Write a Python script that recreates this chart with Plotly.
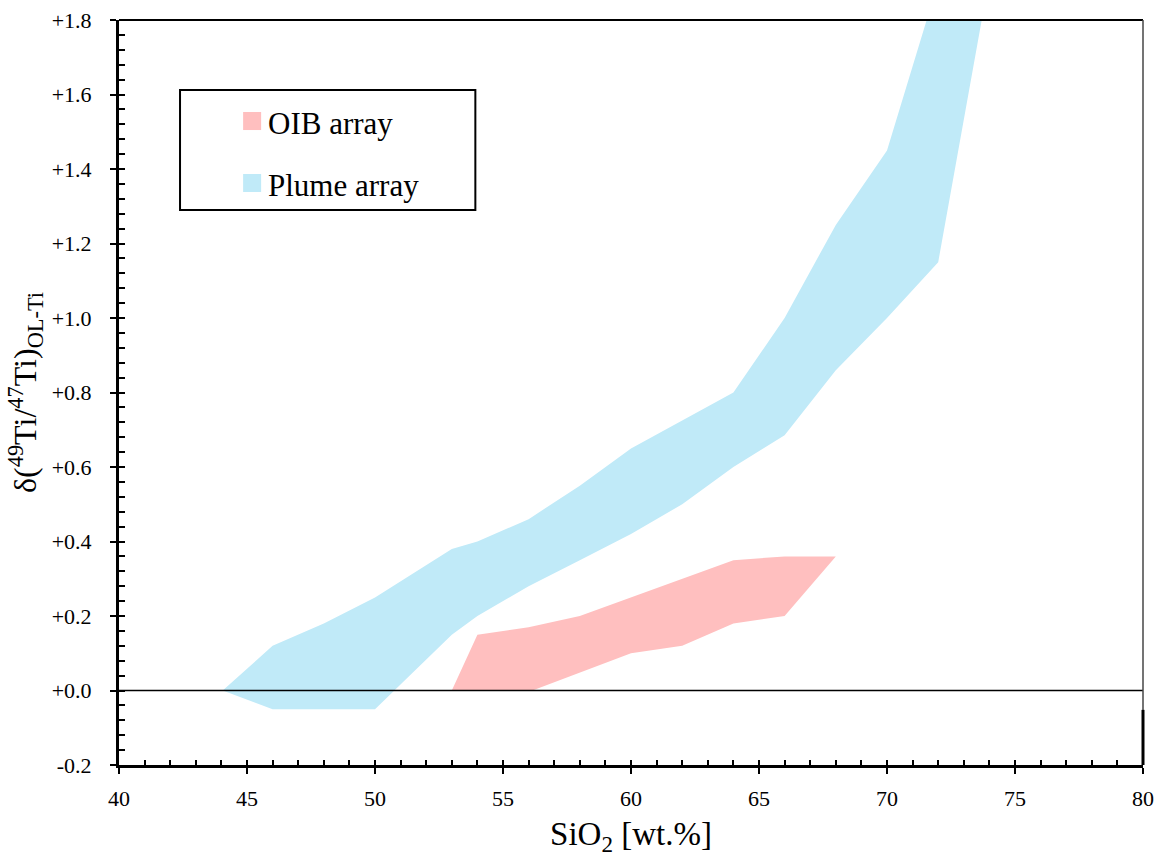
import plotly.graph_objects as go

# Plume array envelope: upper edge (increasing SiO2), then lower edge back down
plume_upper_sio2 = [44.05, 46, 48, 50, 53, 54, 56, 58, 60, 62, 64, 66, 68, 70, 71.55]
plume_upper_dti = [0.00, 0.12, 0.18, 0.25, 0.38, 0.40, 0.46, 0.55, 0.65, 0.725, 0.80, 1.00, 1.25, 1.45, 1.80]
plume_lower_sio2 = [73.7, 72, 70, 68, 66, 64, 62, 60, 58, 56, 54, 53, 50, 46]
plume_lower_dti = [1.80, 1.15, 1.00, 0.86, 0.685, 0.60, 0.50, 0.42, 0.35, 0.28, 0.20, 0.15, -0.05, -0.05]

# OIB array envelope
oib_upper_sio2 = [53.0, 54, 56, 58, 64, 66, 68]
oib_upper_dti = [0.00, 0.15, 0.17, 0.20, 0.35, 0.36, 0.36]
oib_lower_sio2 = [66, 64, 62, 60, 56.15]
oib_lower_dti = [0.20, 0.18, 0.12, 0.10, 0.00]

x_tick_vals = [40, 45, 50, 55, 60, 65, 70, 75, 80]
x_tick_text = ["40", "45", "50", "55", "60", "65", "70", "75", "80"]
y_tick_vals = [-0.2, 0.0, 0.2, 0.4, 0.6, 0.8, 1.0, 1.2, 1.4, 1.6, 1.8]
y_tick_text = ["-0.2", "+0.0", "+0.2", "+0.4", "+0.6", "+0.8", "+1.0", "+1.2", "+1.4", "+1.6", "+1.8"]

series_names = ["OIB array", "Plume array"]
series_colors = ["#FFBFBF", "#C0EAF8"]

FONT = "Liberation Serif"

fig = go.Figure()

fig.add_trace(go.Scatter(
    x=plume_upper_sio2 + plume_lower_sio2,
    y=plume_upper_dti + plume_lower_dti,
    fill="toself", fillcolor=series_colors[1], mode="none",
    name=series_names[1], showlegend=False, hoverinfo="skip",
))
fig.add_trace(go.Scatter(
    x=oib_upper_sio2 + oib_lower_sio2,
    y=oib_upper_dti + oib_lower_dti,
    fill="toself", fillcolor=series_colors[0], mode="none",
    name=series_names[0], showlegend=False, hoverinfo="skip",
    xaxis="x2", yaxis="y2",
))

x_range = [40, 80]
y_range = [-0.2, 1.8]
tick_font = dict(family=FONT, size=22, color="black")

fig.update_layout(
    width=1161, height=857,
    margin=dict(l=119, r=18, t=20, b=92, autoexpand=False),
    paper_bgcolor="white", plot_bgcolor="white",
    font=dict(family=FONT, size=22, color="black"),
    showlegend=False,
    # main axes: lines, outer half of the major ticks and the labels
    xaxis=dict(
        range=x_range, tickmode="array", tickvals=x_tick_vals, ticktext=x_tick_text,
        ticks="outside", ticklen=6, tickwidth=2, tickcolor="black",
        showline=True, linewidth=3, linecolor="black",
        showgrid=False, zeroline=False, tickfont=tick_font, ticklabelstandoff=6,
        title=dict(text="SiO<sub>2</sub> [wt.%]", font=dict(family=FONT, size=33, color="black"),
                   standoff=18),
    ),
    yaxis=dict(
        range=y_range, tickmode="array", tickvals=y_tick_vals, ticktext=y_tick_text,
        ticks="outside", ticklen=6, tickwidth=2, tickcolor="black",
        showline=True, linewidth=3, linecolor="black",
        showgrid=False, zeroline=False, tickfont=tick_font, ticklabelstandoff=14,
        title=dict(text="δ(<sup>49</sup>Ti/<sup>47</sup>Ti)<sub>OL-Ti</sub>",
                   font=dict(family=FONT, size=32, color="black"), standoff=6),
    ),
    # overlay axes: inner ticks at every 1 wt.% and every 0.04
    xaxis2=dict(
        overlaying="x", anchor="y2", side="bottom", range=x_range,
        tickmode="linear", tick0=40, dtick=1, ticks="inside", ticklen=5.5,
        tickwidth=2, tickcolor="black", showticklabels=False,
        showline=False, showgrid=False, zeroline=False,
    ),
    yaxis2=dict(
        overlaying="y", anchor="x2", side="left", range=y_range,
        tickmode="linear", tick0=-0.2, dtick=0.04, ticks="inside", ticklen=5.5,
        tickwidth=2, tickcolor="black", showticklabels=False,
        showline=False, showgrid=False, zeroline=False,
    ),
)

shapes = [
    # zero reference line
    dict(type="line", xref="x domain", yref="y", x0=0, x1=1, y0=0, y1=0,
         line=dict(color="black", width=1.5), layer="above"),
    # top and right frame
    dict(type="line", xref="x domain", yref="y domain", x0=0, x1=1, y0=1, y1=1,
         line=dict(color="black", width=2), layer="above"),
    dict(type="line", xref="x domain", yref="y domain", x0=1, x1=1, y0=0, y1=1,
         line=dict(color="rgb(70,70,70)", width=1.5), layer="above"),
    dict(type="line", xref="x domain", yref="y domain", x0=1, x1=1, y0=0, y1=0.074,
         line=dict(color="black", width=3), layer="above"),
    # legend frame
    dict(type="rect", xref="paper", yref="paper", x0=0.0596, x1=0.348, y0=0.745, y1=0.906,
         line=dict(color="black", width=2), fillcolor="white", layer="above"),
]

legend_rows = [(0.8523, 0.8765, 0.8617), (0.7691, 0.7933, 0.7785)]
annotations = []
for name, color, (y0, y1, ty) in zip(series_names, series_colors, legend_rows):
    shapes.append(dict(type="rect", xref="paper", yref="paper", x0=0.1212, x1=0.1388,
                       y0=y0, y1=y1, line=dict(width=0), fillcolor=color, layer="above"))
    annotations.append(dict(xref="paper", yref="paper", x=0.1437, y=ty, xanchor="left",
                            yanchor="middle", text=name, showarrow=False,
                            font=dict(family=FONT, size=31, color="black")))

fig.update_layout(shapes=shapes, annotations=annotations)

fig.write_html("out.html")
